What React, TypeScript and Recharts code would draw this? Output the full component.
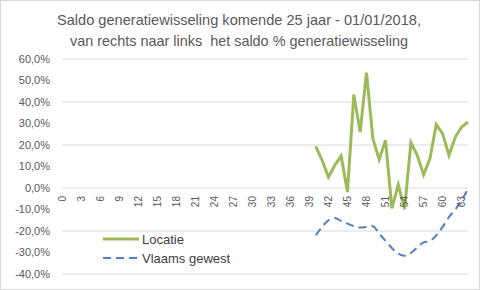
import { LineChart, Line, XAxis, YAxis, CartesianGrid, Legend } from 'recharts';

// age categories 0..64, values only from 40 on
const CATEGORIES = Array.from({ length: 65 }, (_, i) => String(i));
const START = 40;
const LOCATIE = [19.4, 12.9, 5.1, 10.6, 14.9, -1.9, 43.4, 26.0, 53.7, 23.0, 13.2, 22.2, -9.5, 1.6, -9.8, 21.1, 15.2, 6.2, 13.7, 29.5, 25.3, 15.2, 23.7, 28.4, 30.7];
const VLAAMS = [-22.0, -18.1, -15.0, -14.0, -15.3, -16.6, -17.8, -18.4, -18.1, -17.8, -21.2, -24.6, -27.9, -30.5, -31.5, -30.2, -27.7, -25.3, -24.6, -22.0, -18.1, -13.5, -10.0, -5.7, -0.3];
const Y_TICKS = [-40, -30, -20, -10, 0, 10, 20, 30, 40, 50, 60];

const TITLE = [
  'Saldo generatiewisseling komende 25 jaar - 01/01/2018,',
  'van rechts naar links  het saldo % generatiewisseling',
];

const GREEN = '#9BBB59';
const BLUE = '#4F81BD';
const TEXT = '#595959';
const FONT = '"Liberation Sans", Arial, sans-serif';

const TOP = 59;
const BOTTOM = 15;
const X_H = 1;
const H = 290;
const PLOT_H = H - TOP - BOTTOM - X_H;
const ZERO_Y = TOP + PLOT_H * (60 / 100);

const data = CATEGORIES.map((c, i) => ({
  cat: c,
  Locatie: i >= START ? LOCATIE[i - START] : null,
  'Vlaams gewest': i >= START ? VLAAMS[i - START] : null,
}));

const fmt = (v: number) => `${v.toFixed(1).replace('.', ',')}%`;

const XTick = (props: any) => {
  const { x, payload } = props;
  const y0 = ZERO_Y + 8;
  return (
    <text
      x={x}
      y={y0}
      transform={`rotate(-90 ${x} ${y0})`}
      textAnchor="end"
      dominantBaseline="central"
      fontSize={10}
      fontFamily={FONT}
      fill={TEXT}
    >
      {payload.value}
    </text>
  );
};

const LegendContent = () => (
  <svg width={150} height={40}>
    <line x1={2} y1={10} x2={38} y2={10} stroke={GREEN} strokeWidth={3} />
    <text x={41} y={10} dominantBaseline="central" fontSize={13} fontFamily={FONT} fill="#404040">Locatie</text>
    <line x1={2} y1={29} x2={38} y2={29} stroke={BLUE} strokeWidth={2} strokeDasharray="8 5" />
    <text x={41} y={29} dominantBaseline="central" fontSize={13} fontFamily={FONT} fill="#404040">Vlaams gewest</text>
  </svg>
);

export default function App() {
  return (
    <div style={{ position: 'relative', width: 480, height: 290, background: '#fff' }}>
      <style>{'body{margin:0}'}</style>
      <svg width={480} height={55} style={{ position: 'absolute', left: 0, top: 0 }}>
        <text x={239} y={25} textAnchor="middle" fontSize={15} fontFamily={FONT} fill={TEXT} textLength={364} lengthAdjust="spacingAndGlyphs" style={{ whiteSpace: 'pre' }}>
          {TITLE[0]}
        </text>
        <text x={239} y={45.5} textAnchor="middle" fontSize={15} fontFamily={FONT} fill={TEXT} textLength={338} lengthAdjust="spacingAndGlyphs" style={{ whiteSpace: 'pre' }}>
          {TITLE[1]}
        </text>
      </svg>
      <LineChart width={480} height={H} data={data} margin={{ top: TOP, right: 12, bottom: BOTTOM, left: 0 }}>
        <CartesianGrid vertical={false} stroke="#d9d9d9" strokeWidth={1} />
        <XAxis
          dataKey="cat"
          height={X_H}
          interval={2}
          axisLine={false}
          tickLine={false}
          tick={<XTick />}
        />
        <YAxis
          width={62}
          domain={[-40, 60]}
          ticks={Y_TICKS}
          tickFormatter={fmt}
          axisLine={false}
          tickLine={false}
          tickMargin={6}
          tick={{ fontSize: 11, fill: TEXT, fontFamily: FONT }}
        />
        <Legend
          layout="vertical"
          align="center"
          verticalAlign="middle"
          content={<LegendContent />}
          wrapperStyle={{ position: 'absolute', left: 101, top: 229, width: 150 }}
        />
        <Line dataKey="Locatie" stroke={GREEN} strokeWidth={3} dot={false} isAnimationActive={false} connectNulls={false} />
        <Line dataKey="Vlaams gewest" type="monotone" stroke={BLUE} strokeWidth={2} strokeDasharray="8 5" dot={false} isAnimationActive={false} />
      </LineChart>
      <div style={{ position: 'absolute', left: 0, top: 0, width: 480, height: 290, border: '1px solid #d9d9d9', boxSizing: 'border-box', pointerEvents: 'none' }} />
    </div>
  );
}
